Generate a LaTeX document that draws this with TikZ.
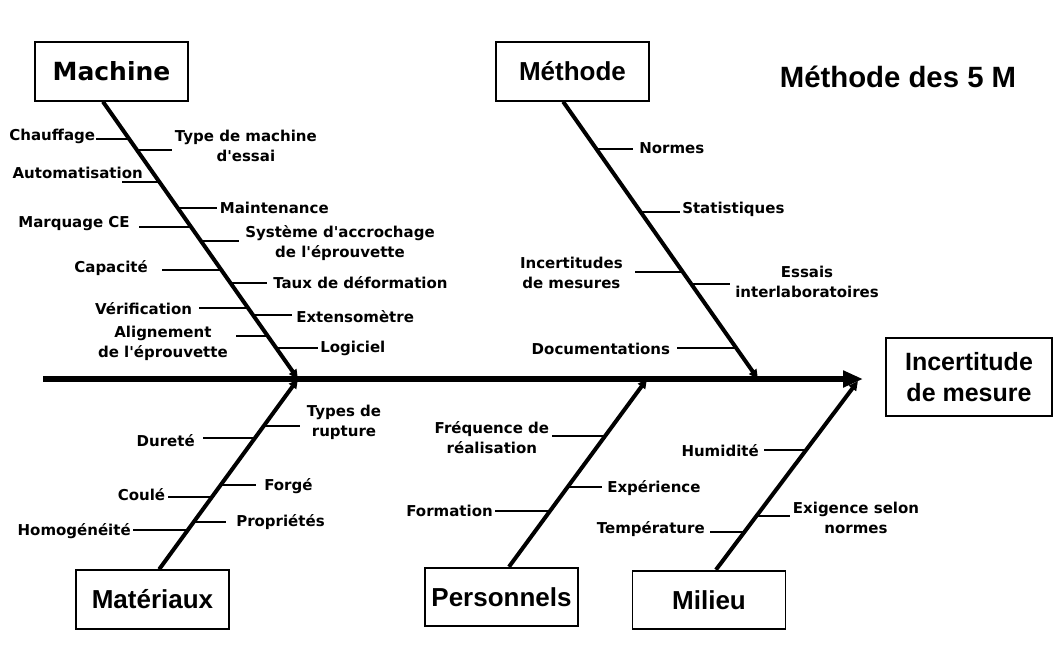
\documentclass[tikz,border=0pt]{standalone}
\usepackage{fontspec}
\setmainfont{DejaVu Sans}
\newfontfamily\arialf{Liberation Sans}
\usetikzlibrary{calc,arrows.meta,positioning}
\newcommand{\lblfont}{\bfseries\fontsize{11.25}{15}\selectfont}
\newcommand{\boxfont}{\arialf\bfseries\fontsize{19.5}{23}\selectfont}
\newcommand{\apo}{\textquotesingle}
\tikzset{
  lbl/.style={font=\lblfont,inner ysep=0pt,inner xsep=2pt,align=center},
  cause/.style={draw,line width=1.3pt,minimum width=114.75pt,minimum height=44pt,inner sep=0pt,font=\boxfont},
  effect/.style={draw,line width=1.3pt,minimum width=124.5pt,minimum height=58.5pt,inner sep=0pt,align=center,
    font=\arialf\bfseries\fontsize{18.75}{23.25}\selectfont},
  bone/.style={line width=3pt,-{Triangle[length=7pt,width=6.5pt]}},
  spine/.style={line width=4.3pt,-{Triangle[length=15pt,width=12pt]}},
  tick/.style={line width=1.5pt}
}

\begin{document}
\begin{tikzpicture}[x=0.75pt,y=-0.75pt]
\useasboundingbox (0,0) rectangle (1057,662);
% boxes
\node[cause,font=\bfseries\fontsize{18.75}{22}\selectfont] (mach) at (111.5,71.5) {Machine};
\node[cause] (meth) at (572.5,71.5) {Méthode};
\node[cause] (mat) at (152.5,599.5) {Matériaux};
\node[cause] (pers) at (501.5,597) {Personnels};
\node[cause] (mil) at (709,600) {Milieu};
\node[effect] (eff) at (969,377) {Incertitude\\de mesure};
\node[font=\arialf\bfseries\fontsize{22}{26}\selectfont] (ttl) at (898,77) {Méthode des 5 M};
% spine
\coordinate (spL) at (43,379);
\coordinate (spR) at (863,379);
\draw[spine] (spL) -- (spR);
% bones
\coordinate (tM) at (298,379);
\coordinate (tN) at (758,379);
\coordinate (tA) at (298,379);
\coordinate (tP) at (647,379);
\coordinate (tL) at (858,381);
\coordinate (ms) at ([xshift=-6.4pt]mach.south);
\coordinate (ns) at ([xshift=-7pt]meth.south);
\coordinate (as) at ([xshift=5pt]mat.north);
\coordinate (ps) at ([xshift=5.6pt]pers.north);
\coordinate (ls) at ([xshift=5.2pt]mil.north);
\draw[bone] (ms) -- (tM);
\draw[bone] (ns) -- (tN);
\draw[bone] (as) -- (tA);
\draw[bone] (ps) -- (tP);
\draw[bone] (ls) -- (tL);

% Machine
\coordinate (m1) at ($(ms)!.133!(tM)$);
\coordinate (m2) at ($(ms)!.291!(tM)$);
\coordinate (m3) at ($(ms)!.453!(tM)$);
\coordinate (m4) at ($(ms)!.608!(tM)$);
\coordinate (m5) at ($(ms)!.745!(tM)$);
\coordinate (m6) at ($(ms)!.845!(tM)$);
\coordinate (m7) at ($(ms)!.173!(tM)$);
\coordinate (m8) at ($(ms)!.385!(tM)$);
\coordinate (m9) at ($(ms)!.504!(tM)$);
\coordinate (m10) at ($(ms)!.655!(tM)$);
\coordinate (m11) at ($(ms)!.770!(tM)$);
\coordinate (m12) at ($(ms)!.888!(tM)$);
\node[lbl,anchor=east,inner xsep=0.5pt] (chauf) at (96,136) {Chauffage};
\node[lbl,anchor=east,inner xsep=0pt] (auto) at (143,173) {Automatisation};
\coordinate (autoend) at ([xshift=-15.75pt]auto.east);
\node[lbl,anchor=east,inner xsep=6.75pt] (marq) at (139,224) {Marquage CE};
\node[lbl,anchor=east,inner xsep=10.5pt] (capa) at (162,268) {Capacité};
\node[lbl,anchor=east,inner xsep=5pt] (verif) at (199,309) {Vérification};
\node[lbl,anchor=east,inner xsep=6pt] (align) at (236,343) {Alignement\\de l\apo éprouvette};
\node[lbl,anchor=west] (typm) at (172,146) {Type de machine\\d\apo essai};
\node[lbl,anchor=west] (maint) at (217,208) {Maintenance};
\node[lbl,anchor=west,inner xsep=4.5pt] (syst) at (239,243) {Système d\apo accrochage\\de l\apo éprouvette};
\node[lbl,anchor=west,inner xsep=4.5pt] (taux) at (267,283) {Taux de déformation};
\node[lbl,anchor=west,inner xsep=3pt] (exten) at (292,317) {Extensomètre};
\node[lbl,anchor=west,inner xsep=1.5pt] (logi) at (318,348) {Logiciel};
\draw[tick] (m1) -- (m1 -| chauf.east);
\draw[tick] (m2) -- (m2 -| autoend);
\draw[tick] (m3) -- (m3 -| marq.east);
\draw[tick] (m4) -- (m4 -| capa.east);
\draw[tick] (m5) -- (m5 -| verif.east);
\draw[tick] (m6) -- (m6 -| align.east);
\draw[tick] (m7) -- (m7 -| typm.west);
\draw[tick] (m8) -- (m8 -| maint.west);
\draw[tick] (m9) -- (m9 -| syst.west);
\draw[tick] (m10) -- (m10 -| taux.west);
\draw[tick] (m11) -- (m11 -| exten.west);
\draw[tick] (m12) -- (m12 -| logi.west);

% Methode
\coordinate (n1) at ($(ns)!.169!(tN)$);
\coordinate (n2) at ($(ns)!.399!(tN)$);
\coordinate (n3) at ($(ns)!.615!(tN)$);
\coordinate (n4) at ($(ns)!.658!(tN)$);
\coordinate (n5) at ($(ns)!.888!(tN)$);
\node[lbl,anchor=west,inner xsep=4.5pt] (norm) at (633,148) {Normes};
\node[lbl,anchor=west,inner xsep=1.5pt] (stat) at (680,209) {Statistiques};
\node[lbl,anchor=east,inner xsep=9pt] (incm) at (635,273) {Incertitudes\\de mesures};
\node[lbl,anchor=west,inner xsep=3.75pt] (essai) at (730,282) {Essais\\interlaboratoires};
\node[lbl,anchor=east,inner xsep=5pt] (docu) at (677,349) {Documentations};
\draw[tick] (n1) -- (n1 -| norm.west);
\draw[tick] (n2) -- (n2 -| stat.west);
\draw[tick] (n3) -- (n3 -| incm.east);
\draw[tick] (n4) -- (n4 -| essai.west);
\draw[tick] (n5) -- (n5 -| docu.east);

% Materiaux
\coordinate (a1) at ($(as)!.691!(tA)$);
\coordinate (a2) at ($(as)!.382!(tA)$);
\coordinate (a3) at ($(as)!.204!(tA)$);
\coordinate (a4) at ($(as)!.754!(tA)$);
\coordinate (a5) at ($(as)!.445!(tA)$);
\coordinate (a6) at ($(as)!.246!(tA)$);
\node[lbl,anchor=east,inner xsep=6pt] (dure) at (203,441) {Dureté};
\node[lbl,anchor=east] (coul) at (168,495) {Coulé};
\node[lbl,anchor=east,inner xsep=1.5pt] (homo) at (133,531) {Homogénéité};
\node[lbl,anchor=west,inner xsep=5pt] (rupt) at (300,422) {Types de\\rupture};
\node[lbl,anchor=west,inner xsep=6pt] (forg) at (256,486) {Forgé};
\node[lbl,anchor=west,inner xsep=7.5pt] (prop) at (226,522) {Propriétés};
\draw[tick] (a1) -- (a1 -| dure.east);
\draw[tick] (a2) -- (a2 -| coul.east);
\draw[tick] (a3) -- (a3 -| homo.east);
\draw[tick] (a4) -- (a4 -| rupt.west);
\draw[tick] (a5) -- (a5 -| forg.west);
\draw[tick] (a6) -- (a6 -| prop.west);

% Personnels
\coordinate (p1) at ($(ps)!.698!(tP)$);
\coordinate (p2) at ($(ps)!.296!(tP)$);
\coordinate (p3) at ($(ps)!.423!(tP)$);
\node[lbl,anchor=east] (freq) at (552,438) {Fréquence de\\réalisation};
\node[lbl,anchor=east,inner xsep=1.5pt] (form) at (495,511) {Formation};
\node[lbl,anchor=west,inner xsep=3.75pt] (expe) at (602,488) {Expérience};
\draw[tick] (p1) -- (p1 -| freq.east);
\draw[tick] (p2) -- (p2 -| form.east);
\draw[tick] (p3) -- (p3 -| expe.west);

% Milieu
\coordinate (l1) at ($(ls)!.637!(tL)$);
\coordinate (l2) at ($(ls)!.200!(tL)$);
\coordinate (l3) at ($(ls)!.284!(tL)$);
\node[lbl,anchor=east,inner xsep=3.75pt] (humi) at (764,451) {Humidité};
\node[lbl,anchor=east,inner xsep=3.75pt] (temp) at (710,529) {Température};
\node[lbl,anchor=west] (exig) at (790,518) {Exigence selon\\normes};
\draw[tick] (l1) -- (l1 -| humi.east);
\draw[tick] (l2) -- (l2 -| temp.east);
\draw[tick] (l3) -- (l3 -| exig.west);
\end{tikzpicture}
\end{document}
